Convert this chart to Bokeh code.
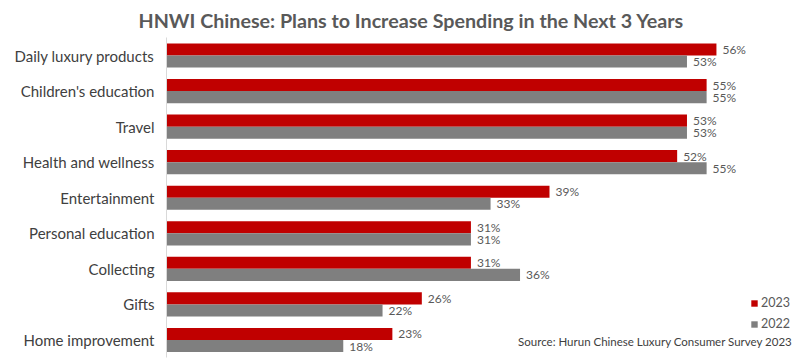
from bokeh.plotting import figure
from bokeh.models import ColumnDataSource, Range1d, FixedTicker, Label, Legend, LegendItem, Title
from bokeh.core.properties import value
from bokeh.embed import file_html
from bokeh.resources import INLINE

categories = ["Daily luxury products", "Children's education", "Travel", "Health and wellness",
              "Entertainment", "Personal education", "Collecting", "Gifts", "Home improvement"]
v2023 = [56, 55, 53, 52, 39, 31, 31, 26, 23]
v2022 = [53, 55, 53, 55, 33, 31, 36, 22, 18]
series_names = ["2023", "2022"]
title_text = "HNWI Chinese: Plans to Increase Spending in the Next 3 Years"
source_text = "Source: Hurun Chinese Luxury Consumer Survey 2023"

RED = "#C00000"
GRAY = "#7F7F7F"
FONT = "Lato"

idx = list(range(len(categories)))
bar_h = 0.34
off = 0.17

src23 = ColumnDataSource(dict(y=[i - off for i in idx], v=v2023, lab=[f"{v}%" for v in v2023]))
src22 = ColumnDataSource(dict(y=[i + off for i in idx], v=v2022, lab=[f"{v}%" for v in v2022]))

p = figure(width=800, height=359, output_backend="svg", toolbar_location=None,
           x_range=Range1d(0, 64.56), y_range=Range1d(8.493, -0.507),
           min_border_top=37, min_border_left=166, min_border_right=0, min_border_bottom=2)
p.outline_line_color = None
p.xgrid.visible = False
p.ygrid.visible = False
p.xaxis.visible = False

t = Title(text=title_text, align="left", offset=-28, text_font=FONT, text_font_size="19.7px",
          text_font_style="bold", text_color="#595959", standoff=12)
p.add_layout(t, "above")

r23 = p.hbar(y="y", right="v", left=0, height=bar_h, source=src23, fill_color=RED, line_color=None)
r22 = p.hbar(y="y", right="v", left=0, height=bar_h, source=src22, fill_color=GRAY, line_color=None)

for s in (src23, src22):
    p.text(x="v", y="y", text="lab", source=s, x_offset=6, text_baseline="middle",
           text_align="left", text_font=value(FONT), text_font_size="12px", text_color="#595959")

ax = p.yaxis[0]
ax.ticker = FixedTicker(ticks=idx)
ax.major_label_overrides = {i: c for i, c in zip(idx, categories)}
ax.major_tick_line_color = None
ax.minor_tick_line_color = None
ax.major_tick_out = 0
ax.major_label_standoff = 12
ax.axis_line_color = "#D9D9D9"
ax.major_label_text_font = FONT
ax.major_label_text_font_size = "15px"
ax.major_label_text_color = "#404040"

legend = Legend(items=[LegendItem(label=series_names[0], renderers=[r23]),
                       LegendItem(label=series_names[1], renderers=[r22])],
                location=(584, 26), orientation="vertical",
                glyph_width=8, glyph_height=8, label_height=14, spacing=6,
                padding=0, margin=0, border_line_color=None, background_fill_alpha=0,
                label_text_font=FONT, label_text_font_size="12.5px", label_text_color="#595959",
                label_standoff=3)
p.add_layout(legend)

p.add_layout(Label(x=63.75, y=8.04, text=source_text, text_align="right", text_baseline="middle",
                   text_font=FONT, text_font_size="11.5px", text_color="#404040"))

open("out.html", "w").write(file_html(p, INLINE))
